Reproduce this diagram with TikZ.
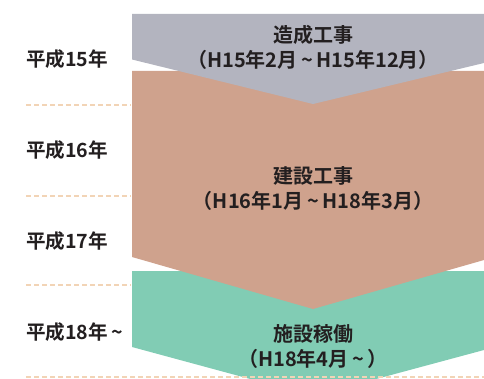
\documentclass[tikz,border=0pt]{standalone}
\usepackage{fontspec}
\newfontfamily\jp{Noto Sans CJK JP}[UprightFont=* Bold]
\newcommand\wavesep{\hbox to 0.95em{\hss\textasciitilde\hss}}
\definecolor{cgray}{RGB}{179,180,191}
\definecolor{cbrown}{RGB}{207,162,141}
\definecolor{cgreen}{RGB}{129,204,180}
\definecolor{cdash}{RGB}{242,212,182}
\definecolor{ctext}{RGB}{35,31,32}
\tikzset{
  yearlabel/.style={anchor=west, inner sep=0pt, font=\jp\fontsize{19.6}{22}\selectfont, text=ctext},
  phasetitle/.style={align=center, inner sep=0pt, font=\jp\fontsize{20}{25}\selectfont, text=ctext},
  sepline/.style={draw=cdash, line width=1.5pt, dash pattern=on 5pt off 3pt}
}
\begin{document}
\begin{tikzpicture}[x=1pt,y=-1pt]
\useasboundingbox (0,0) rectangle (484,379);
\begin{scope}
\clip (0,0) rectangle (484,379);
\fill[cgreen] (132,271) -- (484,271) -- (484,350) -- (313,396) -- (132,347) -- cycle;
\fill[cbrown] (132,71) -- (484,71) -- (484,260) -- (313,309) -- (132,257) -- cycle;
\fill[cgray] (132,14) -- (484,14) -- (484,63) -- (313,104) -- (132,59.5) -- cycle;
\end{scope}
% separators
\coordinate (s1a) at (26,105); \coordinate (s1b) at (131,105);
\coordinate (s2a) at (26,196); \coordinate (s2b) at (131,196);
\coordinate (s3a) at (26,285); \coordinate (s3b) at (131,285);
\coordinate (s4a) at (26,377); \coordinate (s4b) at (484,377);
\draw[sepline] (s1a) -- (s1b);
\draw[sepline] (s2a) -- (s2b);
\draw[sepline] (s3a) -- (s3b);
\draw[sepline] (s4a) -- (s4b);
% year labels
\node[yearlabel] (y15) at (26,59) {平成15年};
\node[yearlabel] (y16) at (26,150) {平成16年};
\node[yearlabel] (y17) at (26,241) {平成17年};
\node[yearlabel] (y18) at (26,332) {平成18年\wavesep};
% phase titles
\node[phasetitle] (p1) at (313,47.5) {造成工事\\（H15年2月\wavesep H15年12月）};
\node[phasetitle] (p2) at (313,189) {建設工事\\（H16年1月\wavesep H18年3月）};
\node[phasetitle] (p3) at (313,346.5) {施設稼働\\（H18年4月\wavesep）};
\end{tikzpicture}
\end{document}
